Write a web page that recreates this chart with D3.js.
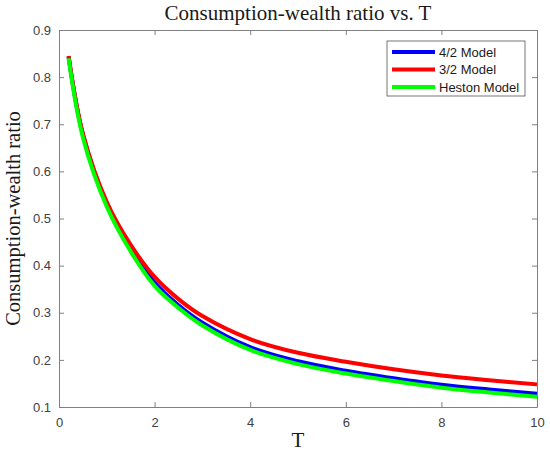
<!DOCTYPE html>
<html>
<head>
<meta charset="utf-8">
<script src="https://cdn.jsdelivr.net/npm/d3@7"></script>
<style>
  body { margin: 0; background: #fff; }
  svg { display: block; }
</style>
</head>
<body>
<svg id="chart" width="550" height="459"></svg>
<script>
// values
const tValues = [0.2, 0.5, 1, 1.5, 2, 2.5, 3, 4, 5, 6, 7, 8, 9, 10];
const model42 = [0.844, 0.678, 0.531, 0.437, 0.364, 0.316, 0.279, 0.227, 0.197, 0.177, 0.161, 0.147, 0.137, 0.128];
const model32 = [0.845, 0.680, 0.535, 0.444, 0.376, 0.329, 0.293, 0.244, 0.215, 0.196, 0.180, 0.167, 0.157, 0.148];
const modelHeston = [0.840, 0.672, 0.525, 0.430, 0.357, 0.310, 0.273, 0.221, 0.191, 0.171, 0.155, 0.141, 0.131, 0.122];
const seriesNames = ["4/2 Model", "3/2 Model", "Heston Model"];
const seriesColors = ["#0000ff", "#ff0000", "#00ff00"];
const xTicks = [0, 2, 4, 6, 8, 10];
const yTicks = [0.1, 0.2, 0.3, 0.4, 0.5, 0.6, 0.7, 0.8, 0.9];

const margin = { left: 59, right: 13, top: 30, bottom: 52 };
const width = 550 - margin.left - margin.right;
const height = 459 - margin.top - margin.bottom;

const svg = d3.select("#chart");
const g = svg.append("g")
  .attr("transform", `translate(${margin.left},${margin.top})`);

const x = d3.scaleLinear().domain([0, 10]).range([0, width]);
const y = d3.scaleLinear().domain([0.1, 0.9]).range([height, 0]);

const axisColor = "#808080";
const textColor = "#404040";

// lines
const series = [model42, model32, modelHeston];
const line = d3.line()
  .x(d => x(d[0]))
  .y(d => y(d[1]))
  .curve(d3.curveCatmullRom.alpha(0.5));

series.forEach((vals, i) => {
  g.append("path")
    .datum(tValues.map((t, j) => [t, vals[j]]))
    .attr("fill", "none")
    .attr("stroke", seriesColors[i])
    .attr("stroke-width", 4)
    .attr("stroke-linejoin", "round")
    .attr("d", line);
});

// axes, MATLAB style box with inward ticks
const styleAxis = sel => {
  sel.select(".domain").attr("stroke", axisColor);
  sel.selectAll(".tick line").attr("stroke", axisColor);
  sel.selectAll(".tick text")
    .attr("fill", textColor)
    .style("font-family", "'Liberation Sans', Arial, sans-serif")
    .style("font-size", "13px");
};

g.append("g")
  .attr("transform", `translate(0,${height})`)
  .call(d3.axisBottom(x).tickValues(xTicks).tickSizeInner(-5).tickSizeOuter(0).tickPadding(11))
  .call(styleAxis);

g.append("g")
  .call(d3.axisTop(x).tickValues(xTicks).tickSizeInner(-5).tickSizeOuter(0).tickFormat(""))
  .call(styleAxis);

g.append("g")
  .call(d3.axisLeft(y).tickValues(yTicks).tickSizeInner(-5).tickSizeOuter(0).tickPadding(8).tickFormat(d3.format(".1f")))
  .call(styleAxis);

g.append("g")
  .attr("transform", `translate(${width},0)`)
  .call(d3.axisRight(y).tickValues(yTicks).tickSizeInner(-5).tickSizeOuter(0).tickFormat(""))
  .call(styleAxis);

// titles
svg.append("text")
  .attr("x", margin.left + width / 2)
  .attr("y", 20)
  .attr("text-anchor", "middle")
  .attr("fill", "#1a1a1a")
  .style("font-family", "'Liberation Serif', 'DejaVu Serif', serif")
  .style("font-size", "21px")
  .text("Consumption-wealth ratio vs. T");

svg.append("text")
  .attr("x", margin.left + width / 2)
  .attr("y", 447)
  .attr("text-anchor", "middle")
  .attr("fill", "#1a1a1a")
  .style("font-family", "'Liberation Serif', 'DejaVu Serif', serif")
  .style("font-size", "21px")
  .text("T");

svg.append("text")
  .attr("transform", `translate(20,${margin.top + height / 2}) rotate(-90)`)
  .attr("text-anchor", "middle")
  .attr("fill", "#1a1a1a")
  .style("font-family", "'Liberation Serif', 'DejaVu Serif', serif")
  .style("font-size", "20.5px")
  .text("Consumption-wealth ratio");

// legend
const legend = svg.append("g")
  .attr("transform", "translate(387,41)");

legend.append("rect")
  .attr("width", 138)
  .attr("height", 55)
  .attr("fill", "#fff")
  .attr("stroke", "#555")
  .attr("stroke-width", 0.8);

seriesNames.forEach((name, i) => {
  const row = legend.append("g")
    .attr("transform", `translate(0, ${11 + i * 17.5})`);
  row.append("line")
    .attr("x1", 5)
    .attr("x2", 48)
    .attr("stroke", seriesColors[i])
    .attr("stroke-width", 4);
  row.append("text")
    .attr("x", 52)
    .attr("y", 4.5)
    .attr("fill", "#1a1a1a")
    .style("font-family", "'Liberation Sans', Arial, sans-serif")
    .style("font-size", "13px")
    .text(name);
});
</script>
</body>
</html>
